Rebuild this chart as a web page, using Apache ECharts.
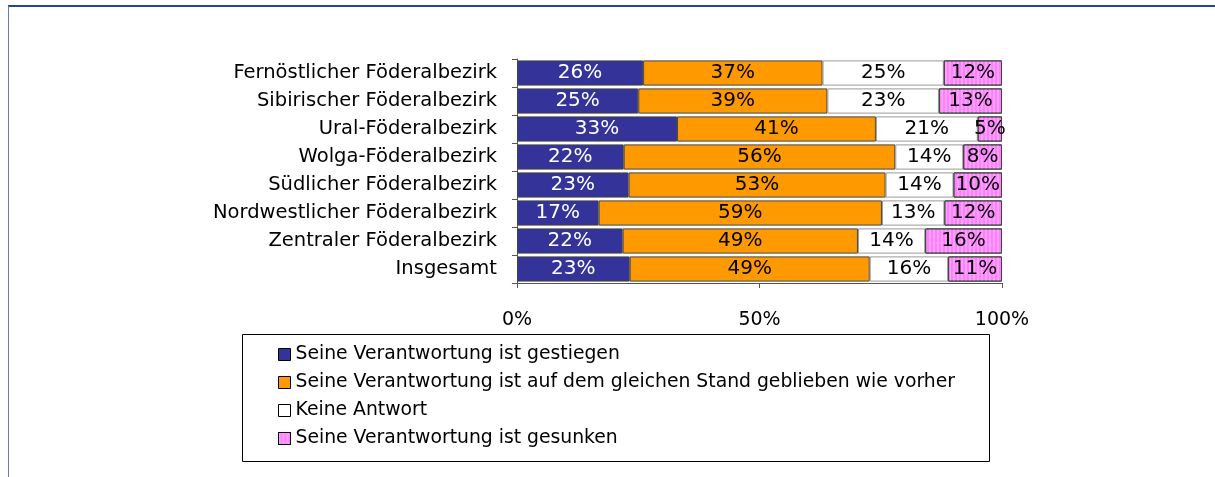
<!DOCTYPE html>
<html>
<head>
<meta charset="utf-8">
<script src="https://cdn.jsdelivr.net/npm/echarts@6/dist/echarts.min.js"></script>
<style>
  html, body { margin: 0; padding: 0; background: #fff; }
  #chart { position: absolute; left: 8px; top: 5px; width: 1207px; height: 472px;
           border-top: 2px solid #1f4e79; border-left: 1px solid #5b7fae; box-sizing: border-box; }
</style>
</head>
<body>
<div id="chart"></div>
<script>
// categories, top to bottom
var regions = [
    'Fernöstlicher Föderalbezirk',
    'Sibirischer Föderalbezirk',
    'Ural-Föderalbezirk',
    'Wolga-Föderalbezirk',
    'Südlicher Föderalbezirk',
    'Nordwestlicher Föderalbezirk',
    'Zentraler Föderalbezirk',
    'Insgesamt'
];
var seriesNames = [
    'Seine Verantwortung ist gestiegen',
    'Seine Verantwortung ist auf dem gleichen Stand geblieben wie vorher',
    'Keine Antwort',
    'Seine Verantwortung ist gesunken'
];
var gestiegen   = [26, 25, 33, 22, 23, 17, 22, 23];
var gleich      = [37, 39, 41, 56, 53, 59, 49, 49];
var keineAntw   = [25, 23, 21, 14, 14, 13, 14, 16];
var gesunken    = [12, 13, 5, 8, 10, 12, 16, 11];
var xTicks = [0, 50, 100];

var FONT = 'DejaVu Sans';
var colors = ['#333399', '#ff9900', '#ffffff', '#ff80ff'];
var labelColors = ['#ffffff', '#000000', '#000000', '#000000'];
var values = [gestiegen, gleich, keineAntw, gesunken];

// 100% stacked: scale each row to its total, labels keep the printed values
var totals = regions.map(function (r, j) {
    return gestiegen[j] + gleich[j] + keineAntw[j] + gesunken[j];
});

var myChart = echarts.init(document.getElementById('chart'));

var series = [];
values.forEach(function (vals, i) {
    var s = {
        name: seriesNames[i],
        type: 'bar',
        stack: 'total',
        barCategoryGap: '10%',
        data: vals.map(function (v, j) { return v / totals[j] * 100; }),
        itemStyle: {
            color: colors[i],
            borderColor: i == 2 ? '#999' : '#444',
            borderWidth: 1
        },
        label: {
            show: true,
            position: 'inside',
            formatter: function (p) { return vals[p.dataIndex] + '%'; },
            color: labelColors[i],
            fontFamily: FONT,
            fontSize: 20
        }
    };
    if (i == 3) {
        // faint vertical stripes on the "gesunken" fill
        s.itemStyle.decal = {
            symbol: 'rect',
            symbolSize: 1,
            dashArrayX: [2, 2],
            dashArrayY: [1, 0],
            rotation: 0,
            color: 'rgba(255,255,255,0.25)'
        };
    }
    series.push(s);
});

var option = {
    animation: false,
    textStyle: { fontFamily: FONT },
    grid: { left: 508, right: 213, top: 52, bottom: 194 },
    xAxis: {
        type: 'value',
        min: xTicks[0],
        max: xTicks[xTicks.length - 1],
        interval: xTicks[1] - xTicks[0],
        axisLine: { show: true, lineStyle: { color: '#555' } },
        axisTick: { show: true, length: 5, lineStyle: { color: '#555' } },
        splitLine: { show: false },
        axisLabel: { color: '#000', fontSize: 19, margin: 28, formatter: '{value}%' }
    },
    yAxis: {
        type: 'category',
        inverse: true,
        data: regions,
        axisLine: { show: true, lineStyle: { color: '#555' } },
        axisTick: { show: true, length: 5, lineStyle: { color: '#555' } },
        axisLabel: { color: '#000', fontSize: 19.5, margin: 20 }
    },
    legend: {
        orient: 'vertical',
        left: 264,
        top: 333,
        itemGap: 9,
        itemWidth: 12,
        itemHeight: 12,
        icon: 'rect',
        itemStyle: { borderColor: '#000', borderWidth: 1 },
        textStyle: { color: '#000', fontSize: 18.8, fontFamily: FONT },
        data: seriesNames
    },
    graphic: [{
        type: 'rect',
        left: 231,
        top: 325,
        shape: { width: 747, height: 127 },
        style: { fill: 'none', stroke: '#000', lineWidth: 1 }
    }],
    series: series
};

myChart.setOption(option);
</script>
</body>
</html>
